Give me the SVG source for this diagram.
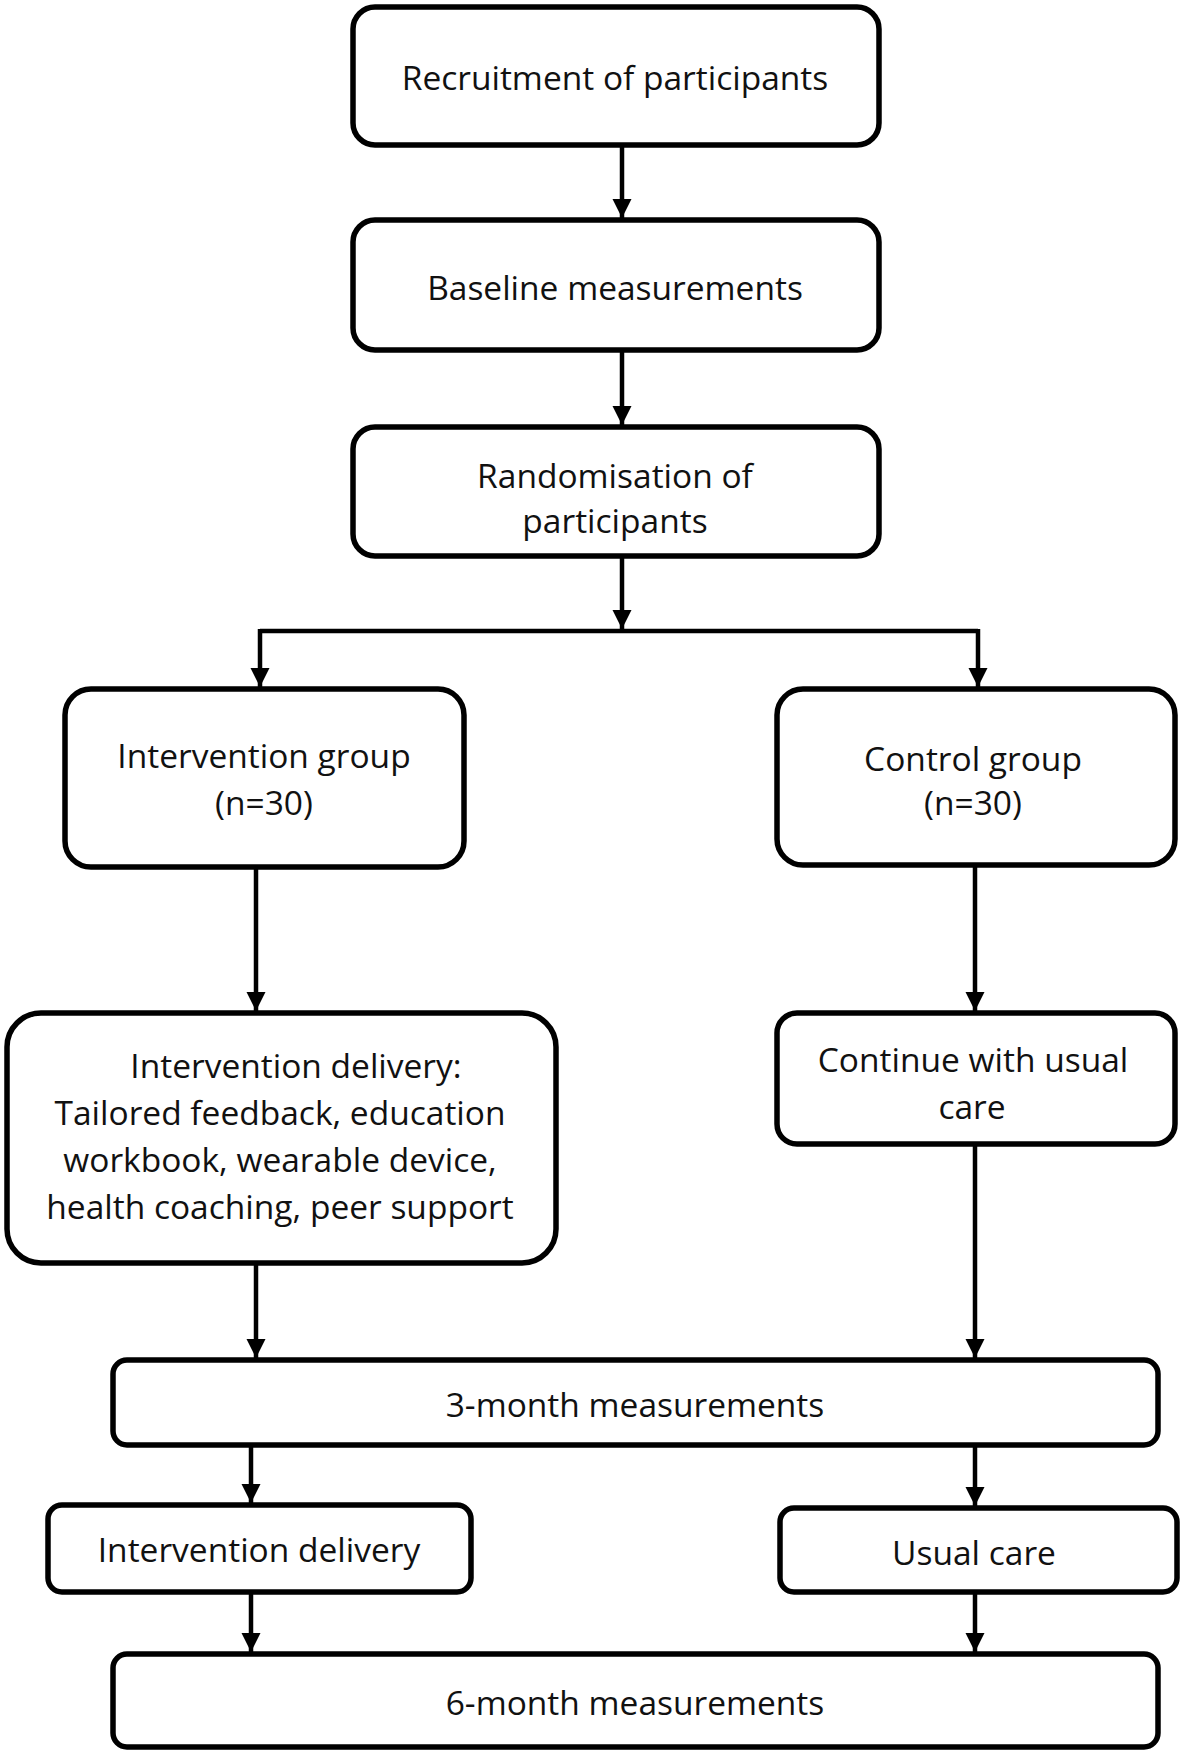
<svg xmlns="http://www.w3.org/2000/svg" width="1180" height="1752" viewBox="0 0 1180 1752">
<style>
.box{fill:#fff;stroke:#000;stroke-width:5.5}
.t{font-family:"Open Sans","Liberation Sans",sans-serif;font-size:33.5px;fill:#111;text-anchor:middle;dominant-baseline:central}
.c{fill:none;stroke:#000;stroke-width:4.5}
</style>
<defs>
<marker id="ah" viewBox="0 0 10 10" refX="10" refY="5" markerUnits="userSpaceOnUse" markerWidth="19" markerHeight="21" orient="auto">
<path d="M0,0 L10,5 L0,10 z" fill="#000"/>
</marker>
</defs>
<rect width="1180" height="1752" fill="#fff"/>
<g id="connectors">
<path class="c" d="M622,145 V218" marker-end="url(#ah)"/>
<path class="c" d="M622,350 V425" marker-end="url(#ah)"/>
<path class="c" d="M622,556 V629" marker-end="url(#ah)"/>
<path class="c" d="M260,631 H978"/>
<path class="c" d="M260,629 V687" marker-end="url(#ah)"/>
<path class="c" d="M978,629 V687" marker-end="url(#ah)"/>
<path class="c" d="M256,868 V1011" marker-end="url(#ah)"/>
<path class="c" d="M975,866 V1011" marker-end="url(#ah)"/>
<path class="c" d="M256,1263 V1358" marker-end="url(#ah)"/>
<path class="c" d="M975,1145 V1358" marker-end="url(#ah)"/>
<path class="c" d="M251,1445 V1503" marker-end="url(#ah)"/>
<path class="c" d="M975,1445 V1506" marker-end="url(#ah)"/>
<path class="c" d="M251,1592 V1652" marker-end="url(#ah)"/>
<path class="c" d="M975,1592 V1652" marker-end="url(#ah)"/>
</g>
<g id="recruitment">
<rect class="box" x="353" y="7" width="526" height="138" rx="22"/>
<text class="t" x="615" y="77">Recruitment of participants</text>
</g>
<g id="baseline">
<rect class="box" x="353" y="220" width="526" height="130" rx="22"/>
<text class="t" x="615" y="287">Baseline measurements</text>
</g>
<g id="randomisation">
<rect class="box" x="353" y="427" width="526" height="129" rx="22"/>
<text class="t" x="615" y="475">Randomisation of</text>
<text class="t" x="615" y="520">participants</text>
</g>
<g id="intervention-group">
<rect class="box" x="65" y="689" width="399" height="178" rx="26"/>
<text class="t" x="264" y="755">Intervention group</text>
<text class="t" x="264" y="802">(n=30)</text>
</g>
<g id="control-group">
<rect class="box" x="777" y="689" width="398" height="176" rx="26"/>
<text class="t" x="973" y="758">Control group</text>
<text class="t" x="973" y="802">(n=30)</text>
</g>
<g id="intervention-delivery-detail">
<rect class="box" x="7" y="1013" width="549" height="250" rx="34"/>
<text class="t" x="296" y="1065">Intervention delivery:</text>
<text class="t" x="280" y="1112">Tailored feedback, education</text>
<text class="t" x="280" y="1159">workbook, wearable device,</text>
<text class="t" x="280" y="1206">health coaching, peer support</text>
</g>
<g id="continue-usual-care">
<rect class="box" x="777" y="1013" width="398" height="131" rx="20"/>
<text class="t" x="973" y="1059">Continue with usual</text>
<text class="t" x="972" y="1106">care</text>
</g>
<g id="three-month">
<rect class="box" x="113" y="1360" width="1045" height="85" rx="14"/>
<text class="t" x="635" y="1404">3-month measurements</text>
</g>
<g id="intervention-delivery">
<rect class="box" x="48" y="1505" width="423" height="87" rx="14"/>
<text class="t" x="259" y="1549">Intervention delivery</text>
</g>
<g id="usual-care">
<rect class="box" x="780" y="1508" width="397" height="84" rx="14"/>
<text class="t" x="974" y="1552">Usual care</text>
</g>
<g id="six-month">
<rect class="box" x="113" y="1654" width="1045" height="93" rx="14"/>
<text class="t" x="635" y="1702">6-month measurements</text>
</g>
</svg>
